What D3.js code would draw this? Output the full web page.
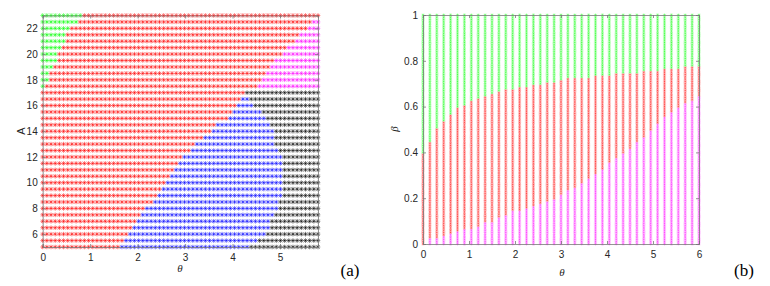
<!DOCTYPE html>
<html>
<head>
<meta charset="utf-8">
<script src="https://cdn.jsdelivr.net/npm/d3@7"></script>
<style>
  body { margin: 0; background: #fff; }
  svg { display: block; }
  .tick text { font-family: "Liberation Sans", Arial, sans-serif; font-size: 10px; fill: #262626; }
</style>
</head>
<body>
<svg id="chart"></svg>
<script>
// ---- panel (a): rows of A, class boundaries (theta) per row ----
let rowsA = [5,5.5,6,6.5,7,7.5,8,8.5,9,9.5,10,10.5,11,11.5,12,12.5,13,13.5,14,14.5,15,15.5,16,16.5,17,17.5,18,18.5,19,19.5,20,20.5,21,21.5,22,22.5,23]
// green where theta <= greenEnd
let greenEndA = [null,null,null,null,null,null,null,null,null,null,null,null,null,null,null,null,null,null,null,null,null,null,null,null,null,0.0,0.09,0.09,0.18,0.27,0.27,0.37,0.46,0.46,0.55,0.74,0.84]
// blue where theta >= blueStart
let blueStartA = [1.59,1.71,1.78,1.89,1.98,2.08,2.19,2.29,2.40,2.48,2.60,2.68,2.80,2.86,2.97,3.09,3.21,3.38,3.52,3.63,3.87,3.98,4.08,4.20,null,null,null,null,null,null,null,null,null,null,null,null,null]
// black where theta >= blackStart
let blackStartA = [4.36,4.55,4.66,4.76,4.83,4.92,4.97,5.00,5.02,5.05,5.06,5.06,5.05,5.03,5.01,4.95,4.92,4.90,4.87,4.82,4.74,4.63,4.47,4.33,4.25,null,null,null,null,null,null,null,null,null,null,null,null]
// magenta where theta >= magentaStart
let magentaStartA = [null,null,null,null,null,null,null,null,null,null,null,null,null,null,null,null,null,null,null,null,null,null,null,null,null,4.52,4.60,4.68,4.78,4.88,5.02,5.15,5.28,5.42,5.56,5.70,null]
let thetaA = d3.range(67).map(i => i * 5.8 / 66) // sampling grid
let xTicksA = [0,1,2,3,4,5]
let yTicksA = [6,8,10,12,14,16,18,20,22]

// ---- panel (b): columns of theta, boundaries (beta) per column ----
let thetaB = d3.range(41).map(i => i * 0.15)
let betaB = d3.range(101).map(i => i / 100)
// green where beta > redTop
let redTopB = [0.39,0.44,0.50,0.53,0.56,0.59,0.605,0.62,0.637,0.648,0.655,0.664,0.67,0.677,0.681,0.689,0.69,0.69,0.703,0.706,
               0.715,0.72,0.72,0.725,0.725,0.73,0.73,0.735,0.74,0.74,0.745,0.745,0.75,0.75,0.755,0.76,0.76,0.765,0.77,0.77,0.775]
// magenta where beta <= magentaTop
let magentaTopB = [-1,0.02,0.025,0.036,0.04,0.052,0.063,0.068,0.077,0.092,0.095,0.113,0.121,0.14,0.14,0.153,0.165,0.172,0.186,0.196,
                   0.21,0.23,0.24,0.26,0.28,0.30,0.32,0.35,0.37,0.39,0.41,0.44,0.46,0.49,0.52,0.55,0.57,0.59,0.61,0.62,0.64]
let xTicksB = [0,1,2,3,4,5,6]
let yTicksB = [0,0.2,0.4,0.6,0.8,1]

let colors = { g: '#00ff00', r: '#ff0000', b: '#0000ff', k: '#000000', m: '#ff00ff' }

let width = 770
let height = 286

let svg = d3.select('#chart').attr('width', width).attr('height', height)

let star = (s) => {
    let d = s * 0.72
    return `M${-s},0H${s}M0,${-s}V${s}M${-d},${-d}L${d},${d}M${-d},${d}L${d},${-d}`
}

let classA = (r, t) => {
    let e = 1e-6
    if (greenEndA[r] != null && t <= greenEndA[r] + e) return 'g'
    if (magentaStartA[r] != null && t >= magentaStartA[r] - e) return 'm'
    if (blackStartA[r] != null && t >= blackStartA[r] - e) return 'k'
    if (blueStartA[r] != null && t >= blueStartA[r] - e) return 'b'
    return 'r'
}

let classB = (c, b) => {
    if (b <= magentaTopB[c] + 1e-6) return 'm'
    if (b > redTopB[c] + 1e-6) return 'g'
    return 'r'
}

let drawFrame = (g, x, y, xTicks, yTicks, yFmt) => {
    let [x0, x1] = x.range()
    let [y0, y1] = y.range()
    let axB = g.append('g').attr('transform', `translate(0,${y0})`)
        .call(d3.axisBottom(x).tickValues(xTicks).tickSize(-3).tickPadding(7).tickFormat(d3.format('d')))
    let axL = g.append('g').attr('transform', `translate(${x0},0)`)
        .call(d3.axisLeft(y).tickValues(yTicks).tickSize(-3).tickPadding(5).tickFormat(yFmt))
    let axT = g.append('g').attr('transform', `translate(0,${y1})`)
        .call(d3.axisTop(x).tickValues(xTicks).tickSize(-3).tickFormat(''))
    let axR = g.append('g').attr('transform', `translate(${x1},0)`)
        .call(d3.axisRight(y).tickValues(yTicks).tickSize(-3).tickFormat(''))
    ;[axB, axL, axT, axR].forEach(a => {
        a.select('.domain').attr('stroke', '#7a7a7a').attr('stroke-width', 0.8)
        a.selectAll('.tick line').attr('stroke', '#7a7a7a').attr('stroke-width', 0.8)
    })
}

// ---------- panel (a) ----------
let xA = d3.scaleLinear().domain([0, 5.8]).range([42.7, 318])
let yA = d3.scaleLinear().domain([5, 23]).range([247, 15.5])

let cellsA = []
rowsA.forEach((a, r) => thetaA.forEach(t => cellsA.push({ t: t, a: a, c: classA(r, t) })))

let gA = svg.append('g')
gA.selectAll('path.mk')
    .data(cellsA)
    .enter()
    .append('path')
    .attr('class', 'mk')
    .attr('d', star(2.3))
    .attr('transform', d => `translate(${xA(d.t)},${yA(d.a)})`)
    .attr('fill', 'none')
    .attr('stroke', d => colors[d.c])
    .attr('stroke-width', 0.7)
    .attr('stroke-opacity', 0.75)

drawFrame(gA, xA, yA, xTicksA, yTicksA, d3.format('d'))

gA.append('text').attr('x', 180).attr('y', 272)
    .attr('font-family', '"Liberation Serif", serif').attr('font-style', 'italic')
    .attr('font-size', 11).attr('fill', '#262626').attr('text-anchor', 'middle').text('θ')
gA.append('text').attr('transform', 'translate(25,131) rotate(-90)')
    .attr('font-family', '"Liberation Sans", Arial, sans-serif')
    .attr('font-size', 11).attr('fill', '#262626').attr('text-anchor', 'middle').text('A')

// ---------- panel (b) ----------
let xB = d3.scaleLinear().domain([0, 6]).range([423, 699])
let yB = d3.scaleLinear().domain([0, 1]).range([244, 15])

let cellsB = []
thetaB.forEach((t, c) => betaB.forEach(b => cellsB.push({ t: t, b: b, c: classB(c, b) })))

let gB = svg.append('g')
gB.selectAll('path.mk')
    .data(cellsB)
    .enter()
    .append('path')
    .attr('class', 'mk')
    .attr('d', star(1.6))
    .attr('transform', d => `translate(${xB(d.t)},${yB(d.b)})`)
    .attr('fill', 'none')
    .attr('stroke', d => colors[d.c])
    .attr('stroke-width', 0.5)
    .attr('stroke-opacity', 0.55)

drawFrame(gB, xB, yB, xTicksB, yTicksB, d3.format('.1~f'))

gB.append('text').attr('x', 562).attr('y', 276)
    .attr('font-family', '"Liberation Serif", serif').attr('font-style', 'italic')
    .attr('font-size', 11).attr('fill', '#262626').attr('text-anchor', 'middle').text('θ')
gB.append('text').attr('transform', 'translate(398,129) rotate(-90)')
    .attr('font-family', '"Liberation Serif", serif').attr('font-style', 'italic')
    .attr('font-size', 11).attr('fill', '#262626').attr('text-anchor', 'middle').text('β')

// ---------- sub-figure labels ----------
svg.append('text').attr('x', 350).attr('y', 276)
    .attr('font-family', '"Liberation Serif", "Times New Roman", serif')
    .attr('font-size', 17).attr('fill', '#000').attr('text-anchor', 'middle').text('(a)')
svg.append('text').attr('x', 744).attr('y', 276)
    .attr('font-family', '"Liberation Serif", "Times New Roman", serif')
    .attr('font-size', 17).attr('fill', '#000').attr('text-anchor', 'middle').text('(b)')
</script>
</body>
</html>
